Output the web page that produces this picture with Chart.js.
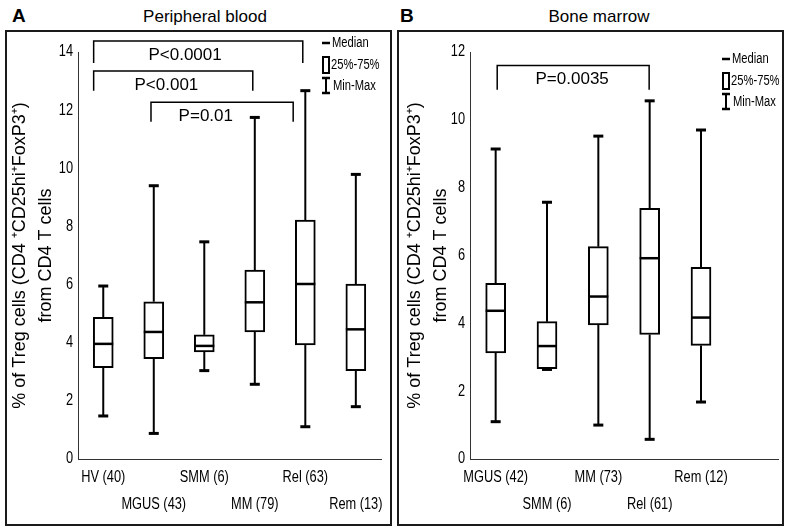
<!DOCTYPE html>
<html>
<head>
<meta charset="utf-8">
<script src="https://cdn.jsdelivr.net/npm/chart.js@4.4.1/dist/chart.umd.min.js"></script>
<style>
  body { margin: 0; width: 790px; height: 532px; background: #fff; position: relative; overflow: hidden;
         font-family: "Liberation Sans", Arial, sans-serif; color: #000; }
  .frame { position: absolute; top: 30px; width: 387px; height: 496px; border: 2px solid #1a1a1a; box-sizing: border-box; }
  .panel { position: absolute; top: 0; }
  .letter { position: absolute; top: 6px; font-size: 19px; line-height: 19px; font-weight: bold; }
  .title { position: absolute; top: 8px; width: 240px; text-align: center; font-size: 17px; line-height: 17px; }
</style>
</head>
<body>
<div class="frame" style="left:5px"></div>
<div class="frame" style="left:397px"></div>
<div class="letter" style="left:12px">A</div>
<div class="title" style="left:85px">Peripheral blood</div>
<div class="letter" style="left:400px">B</div>
<div class="title" style="left:479px">Bone marrow</div>
<canvas id="pbChart" class="panel" width="395" height="532" style="left:0"></canvas>
<canvas id="bmChart" class="panel" width="395" height="532" style="left:395px"></canvas>

<script>
// ============================================================
// Data: Peripheral blood
// ============================================================

const pbLabels = ['HV (40)', 'MGUS (43)', 'SMM (6)', 'MM (79)', 'Rel (63)', 'Rem (13)']
const pbMin    = [1.48, 0.88, 3.04, 2.57, 1.11, 1.80]
const pbQ1     = [3.14, 3.45, 3.68, 4.37, 3.92, 3.04]
const pbMedian = [3.96, 4.37, 3.89, 5.39, 6.02, 4.46]
const pbQ3     = [4.87, 5.41, 4.27, 6.50, 8.22, 6.02]
const pbMax    = [5.95, 9.40, 7.47, 11.75, 12.67, 9.79]
const pbYMax = 14

// brackets: ends in category units, heights in % units
const pbBrackets = [
  { label: 'P<0.0001', from: -0.19, to: 3.95, top: 14.38, foot: 13.62, textAt: 1.62 },
  { label: 'P<0.001',  from: -0.19, to: 2.96, top: 13.35, foot: 12.67, textAt: 1.25 },
  { label: 'P=0.01',   from: 0.945, to: 3.76, top: 12.27, foot: 11.60, textAt: 2.03 }
]

// ============================================================
// Data: Bone marrow
// ============================================================

const bmLabels = ['MGUS (42)', 'SMM (6)', 'MM (73)', 'Rel (61)', 'Rem (12)']
const bmMin    = [1.10, 2.64, 1.00, 0.58, 1.68]
const bmQ1     = [3.13, 2.66, 3.95, 3.67, 3.35]
const bmMedian = [4.37, 3.33, 4.79, 5.92, 4.17]
const bmQ3     = [5.18, 4.05, 6.26, 7.39, 5.65]
const bmMax    = [9.14, 7.57, 9.52, 10.56, 9.70]
const bmYMax = 12

const bmBrackets = [
  { label: 'P=0.0035', from: 0.03, to: 2.99, top: 11.60, foot: 10.89, textAt: 1.49 }
]

const yTitle = ['% of Treg cells (CD4 \u207ACD25hi\u207AFoxP3\u207A)', 'from CD4 T cells']

// no narrow face installed: text set in this family is squeezed horizontally
const NARROW  = '"Liberation Sans Narrow", "Liberation Sans", sans-serif'
const REGULAR = '"Liberation Sans", Arial, sans-serif'
const NARROW_SCALE = 0.8

function condenseNarrowText(ctx) {
  const fill = ctx.fillText
  ctx.fillText = function (text, x, y, maxWidth) {
    if (!this.font.includes('Narrow')) {
      return maxWidth === undefined ? fill.call(this, text, x, y) : fill.call(this, text, x, y, maxWidth)
    }
    this.save()
    this.translate(x, y)
    this.scale(NARROW_SCALE, 1)
    fill.call(this, text, 0, 0)
    this.restore()
  }
}

// ============================================================
// Box & whisker drawing on top of the floating bars
// ============================================================

function makeBoxPlugin(stats, brackets, legendAt) {
  return {
    id: 'boxPlot',
    beforeInit(chart) {
      condenseNarrowText(chart.ctx)
    },
    afterDatasetsDraw(chart) {
      const { ctx, scales: { x, y } } = chart
      const seg = (x1, y1, x2, y2) => {
        ctx.beginPath(); ctx.moveTo(x1, y1); ctx.lineTo(x2, y2); ctx.stroke()
      }
      ctx.save()
      ctx.strokeStyle = '#000'
      ctx.fillStyle = '#000'

      stats.median.forEach((m, i) => {
        const cx = x.getPixelForValue(i)
        const yMin = y.getPixelForValue(stats.min[i])
        const yMax = y.getPixelForValue(stats.max[i])
        ctx.lineWidth = 2
        seg(cx, y.getPixelForValue(stats.q3[i]), cx, yMax)
        seg(cx, y.getPixelForValue(stats.q1[i]), cx, yMin)
        ctx.lineWidth = 3
        seg(cx - 5, yMax, cx + 5, yMax)
        seg(cx - 5, yMin, cx + 5, yMin)
        ctx.lineWidth = 2.5
        const ym = y.getPixelForValue(m)
        seg(cx - 10, ym, cx + 10, ym)
      })

      // significance brackets
      ctx.lineWidth = 1.5
      ctx.font = '17px ' + REGULAR
      ctx.textAlign = 'center'
      ctx.textBaseline = 'middle'
      brackets.forEach(b => {
        const x1 = x.getPixelForValue(b.from)
        const x2 = x.getPixelForValue(b.to)
        const yt = y.getPixelForValue(b.top)
        const yf = y.getPixelForValue(b.foot)
        ctx.beginPath()
        ctx.moveTo(x1, yf); ctx.lineTo(x1, yt); ctx.lineTo(x2, yt); ctx.lineTo(x2, yf)
        ctx.stroke()
        ctx.fillText(b.label, x.getPixelForValue(b.textAt), yt + 14)
      })

      // legend
      const lx = legendAt.x, ly = legendAt.y
      ctx.lineWidth = 2.5
      seg(lx, ly, lx + 8, ly)
      ctx.lineWidth = 2
      ctx.strokeRect(lx + 1, ly + 14, 6, 16)
      seg(lx + 4, ly + 35, lx + 4, ly + 50)
      ctx.lineWidth = 2.5
      seg(lx, ly + 35, lx + 8, ly + 35)
      seg(lx, ly + 50, lx + 8, ly + 50)
      ctx.font = '14px ' + NARROW
      ctx.textAlign = 'left'
      ctx.fillText('Median', lx + 10, ly)
      ctx.fillText('25%-75%', lx + 9, ly + 22)
      ctx.fillText('Min-Max', lx + 11, ly + 43)
      ctx.restore()
    }
  }
}

// ============================================================
// Chart builder
// ============================================================

function renderBoxChart(canvasId, cfg) {
  const ctx = document.getElementById(canvasId)
  const stats = { min: cfg.min, q1: cfg.q1, median: cfg.median, q3: cfg.q3, max: cfg.max }
  // stagger category labels on two rows
  const tickLabels = cfg.labels.map((l, i) => (i % 2 ? ['', l] : [l]))

  return new Chart(ctx, {
    type: 'bar',
    data: {
      labels: tickLabels,
      datasets: [{
        data: cfg.q1.map((q, i) => [q, cfg.q3[i]]),
        backgroundColor: '#fff',
        borderColor: '#000',
        borderWidth: 2,
        borderSkipped: false,
        barThickness: 20
      }]
    },
    options: {
      responsive: false,
      animation: false,
      devicePixelRatio: 1,
      layout: { padding: { left: 0, right: cfg.padRight, top: 52, bottom: 0 } },
      plugins: { legend: { display: false }, tooltip: { enabled: false } },
      scales: {
        x: {
          grid: { display: false, drawTicks: false },
          border: { display: true, color: '#333', width: 1 },
          ticks: {
            color: '#000', padding: 5, autoSkip: false, maxRotation: 0,
            font: { family: NARROW, size: 16, lineHeight: 27 / 16 }
          },
          afterFit: s => { s.height = 73 }
        },
        y: {
          min: 0, max: cfg.yMax,
          grid: { display: false, drawTicks: false },
          border: { display: true, color: '#333', width: 1 },
          ticks: { stepSize: 2, color: '#000', padding: 5, font: { family: NARROW, size: 16 } },
          title: {
            display: true, text: yTitle, color: '#000',
            font: { family: REGULAR, size: 18, lineHeight: 26 / 18 },
            padding: { top: 7, bottom: 0 }
          },
          afterFit: s => { s.width = cfg.axisLeft }
        }
      }
    },
    plugins: [makeBoxPlugin(stats, cfg.brackets, cfg.legendAt)]
  })
}

renderBoxChart('pbChart', {
  labels: pbLabels, min: pbMin, q1: pbQ1, median: pbMedian, q3: pbQ3, max: pbMax,
  yMax: pbYMax, brackets: pbBrackets,
  axisLeft: 78, padRight: 10, legendAt: { x: 322, y: 43 }
})

renderBoxChart('bmChart', {
  labels: [...bmLabels, ''], min: bmMin, q1: bmQ1, median: bmMedian, q3: bmQ3, max: bmMax,
  yMax: bmYMax, brackets: bmBrackets,
  axisLeft: 75, padRight: 12, legendAt: { x: 327, y: 59 }
})
</script>
</body>
</html>
